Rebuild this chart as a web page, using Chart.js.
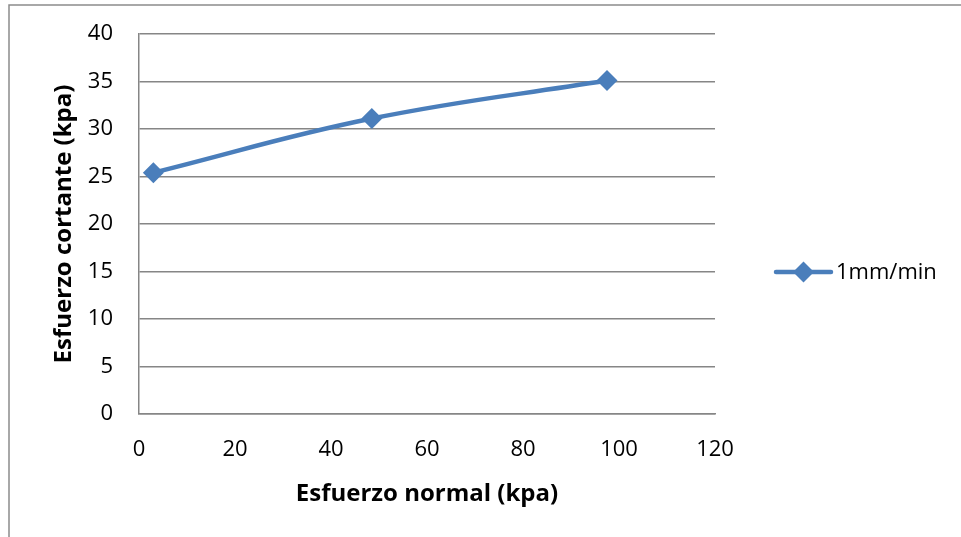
<!DOCTYPE html>
<html>
<head>
<meta charset="utf-8">
<script src="https://cdn.jsdelivr.net/npm/chart.js@4"></script>
<style>
  html, body { margin: 0; padding: 0; background: #ffffff; }
  #wrap { width: 961px; height: 537px; position: relative; }
</style>
</head>
<body>
<div id="wrap"><canvas id="c" width="961" height="537"></canvas></div>
<script>
// ---- data ----
const seriesLabel = "1mm/min";
const normalStress = [3, 48.5, 97.5];      // Esfuerzo normal (kpa)
const shearStress  = [25.4, 31.1, 35.1];   // Esfuerzo cortante (kpa)
const xTitle = "Esfuerzo normal (kpa)";
const yTitle = "Esfuerzo cortante (kpa)";

const lineColor = "#4A7EBB";
const gridColor = "#868686";

const points = normalStress.map((x, i) => ({ x: x, y: shearStress[i] }));

// outer frame like the Excel chart area border
const framePlugin = {
  id: 'frame',
  beforeDraw(chart) {
    const ctx = chart.ctx;
    ctx.save();
    ctx.fillStyle = '#ffffff';
    ctx.fillRect(0, 0, chart.width, chart.height);
    ctx.strokeStyle = '#8c8c8c';
    ctx.lineWidth = 1.5;
    ctx.beginPath();
    ctx.moveTo(9, chart.height + 5);
    ctx.lineTo(9, 5);
    ctx.lineTo(chart.width + 5, 5);
    ctx.stroke();
    ctx.restore();
  }
};

// Excel-style legend: line with diamond marker + label
const legendPlugin = {
  id: 'excelLegend',
  afterDraw(chart) {
    const ctx = chart.ctx;
    const ds = chart.data.datasets[0];
    const x0 = 776, x1 = 831, yc = 272;
    ctx.save();
    ctx.strokeStyle = ds.borderColor;
    ctx.lineWidth = ds.borderWidth;
    ctx.lineCap = 'round';
    ctx.beginPath();
    ctx.moveTo(x0, yc);
    ctx.lineTo(x1, yc);
    ctx.stroke();
    const cx = (x0 + x1) / 2, r = ds.pointRadius;
    ctx.fillStyle = ds.pointBackgroundColor;
    ctx.beginPath();
    ctx.moveTo(cx - r, yc);
    ctx.lineTo(cx, yc - r);
    ctx.lineTo(cx + r, yc);
    ctx.lineTo(cx, yc + r);
    ctx.closePath();
    ctx.fill();
    ctx.fillStyle = '#000000';
    ctx.font = '22px "Open Sans"';
    ctx.textBaseline = 'middle';
    ctx.textAlign = 'left';
    ctx.fillText(ds.label, 836, yc + 1);
    ctx.restore();
  }
};

new Chart(document.getElementById('c'), {
  type: 'scatter',
  data: {
    datasets: [{
      label: seriesLabel,
      data: points,
      showLine: true,
      borderColor: lineColor,
      backgroundColor: lineColor,
      borderWidth: 4.5,
      tension: 0.4,
      pointStyle: 'rectRot',
      pointRadius: 10.5,
      pointBorderWidth: 0,
      pointBackgroundColor: lineColor,
      pointBorderColor: lineColor
    }]
  },
  options: {
    responsive: false,
    animation: false,
    devicePixelRatio: 1,
    layout: { padding: { left: 0, right: 246, top: 34, bottom: 0 } },
    plugins: {
      legend: { display: false },
      tooltip: { enabled: false }
    },
    scales: {
      x: {
        type: 'linear',
        min: 0, max: 120,
        ticks: { stepSize: 20, color: '#000', font: { family: 'Open Sans', size: 22 }, padding: 23, maxRotation: 0 },
        grid: { display: false, drawTicks: false },
        border: { display: true, color: gridColor, width: 1.5 },
        title: { display: true, text: xTitle, color: '#000',
                 font: { family: 'Open Sans', size: 24, weight: 'bold' },
                 padding: { top: 0, bottom: 28 } },
        afterFit(scale) { scale.height = 123; scale.paddingLeft = 0; scale.paddingRight = 0; }
      },
      y: {
        type: 'linear',
        min: 0, max: 40,
        ticks: { stepSize: 5, color: '#000', font: { family: 'Open Sans', size: 22 }, padding: 26 },
        grid: { display: true, color: gridColor, lineWidth: 1.5, drawTicks: false },
        border: { display: true, color: gridColor, width: 1.5 },
        title: { display: true, text: yTitle, color: '#000',
                 font: { family: 'Open Sans', size: 24, weight: 'bold' },
                 padding: { top: 50, bottom: 0 } },
        afterFit(scale) { scale.width = 139; scale.paddingTop = 0; scale.paddingBottom = 0; }
      }
    }
  },
  plugins: [framePlugin, legendPlugin]
});
</script>
</body>
</html>
